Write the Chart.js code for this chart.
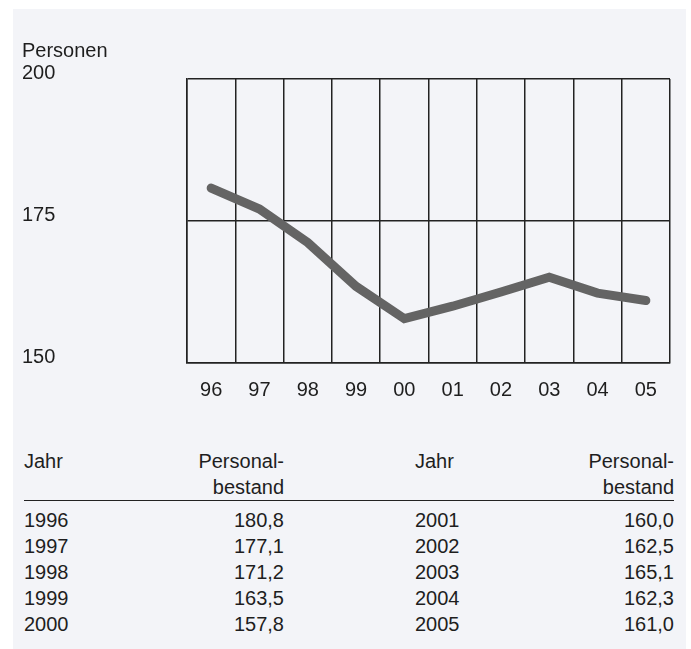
<!DOCTYPE html>
<html>
<head>
<meta charset="utf-8">
<script src="https://cdn.jsdelivr.net/npm/chart.js@4"></script>
<style>
  body { margin: 0; background: #fff; font-family: "Liberation Sans", Arial, sans-serif; color: #1e1e1e; }
  #panel { position: absolute; left: 13px; top: 9px; width: 673px; height: 640px; background: #f3f4f8; }
  #wrap { position: absolute; left: 0; top: 0; width: 673px; height: 420px; }
  #tbl { position: absolute; left: 11px; top: 439px; width: 650px; border-collapse: collapse; table-layout: fixed; font-size: 20px; }
  #tbl td { padding: 0; line-height: 26px; height: 26px; white-space: nowrap; }
  #tbl .r { text-align: right; }
  #tbl tr.last td { border-bottom: 1.5px solid #222; }
  #tbl tr.first td { padding-top: 6px; }
</style>
</head>
<body>
<div id="panel">
  <div id="wrap"><canvas id="chart"></canvas></div>
  <table id="tbl">
    <colgroup><col style="width:130px"><col style="width:130px"><col style="width:131px"><col style="width:130px"><col style="width:129px"></colgroup>
    <tbody id="tbody"></tbody>
  </table>
</div>
<script>
// chart data
const years = ["96", "97", "98", "99", "00", "01", "02", "03", "04", "05"];
const tableYears = ["1996", "1997", "1998", "1999", "2000", "2001", "2002", "2003", "2004", "2005"];
const personal = [180.8, 177.1, 171.2, 163.5, 157.8, 160.0, 162.5, 165.1, 162.3, 161.0];
const yTicks = [150, 175, 200];

const font = { family: "'Liberation Sans', Arial, sans-serif", size: 20 };

const ctx = document.getElementById("chart");
new Chart(ctx, {
  type: "line",
  data: {
    labels: years,
    datasets: [
      {
        data: personal,
        borderColor: "#646464",
        borderWidth: 9,
        borderCapStyle: "round",
        borderJoinStyle: "miter",
        pointRadius: 0,
        tension: 0,
      },
    ],
  },
  options: {
    responsive: true,
    maintainAspectRatio: false,
    animation: false,
    layout: { padding: { left: 9, right: 16, top: 0, bottom: 12 } },
    plugins: {
      legend: { display: false },
      tooltip: { enabled: false },
      title: {
        display: true,
        text: "Personen",
        align: "start",
        color: "#1e1e1e",
        font: { ...font, weight: "normal" },
        padding: { top: 30, bottom: 16 },
      },
    },
    scales: {
      x: {
        offset: true,
        grid: { offset: true, color: "#222", lineWidth: 1.5, drawTicks: false },
        border: { color: "#222", width: 1.5 },
        ticks: { color: "#1e1e1e", font, padding: 15, maxRotation: 0 },
      },
      y: {
        min: yTicks[0],
        max: yTicks[yTicks.length - 1],
        afterBuildTicks: (scale) => {
          scale.ticks = yTicks.map((v) => ({ value: v }));
        },
        afterFit: (scale) => {
          scale.width = 165;
        },
        grid: { color: "#222", lineWidth: 1.5, drawTicks: false },
        border: { color: "#222", width: 1.5 },
        ticks: { color: "#1e1e1e", font, crossAlign: "far", labelOffset: -6, padding: 0 },
      },
    },
  },
});

// table below the chart
const fmt = (v) => v.toFixed(1).replace(".", ",");
const half = tableYears.length / 2;
let html =
  '<tr><td>Jahr</td><td class="r">Personal-</td><td></td><td>Jahr</td><td class="r">Personal-</td></tr>' +
  '<tr class="last"><td></td><td class="r">bestand</td><td></td><td></td><td class="r">bestand</td></tr>';
for (let i = 0; i < half; i++) {
  html +=
    "<tr" + (i === 0 ? ' class="first"' : "") + ">" +
    "<td>" + tableYears[i] + "</td>" +
    '<td class="r">' + fmt(personal[i]) + "</td><td></td>" +
    "<td>" + tableYears[i + half] + "</td>" +
    '<td class="r">' + fmt(personal[i + half]) + "</td></tr>";
}
document.getElementById("tbody").innerHTML = html;
</script>
</body>
</html>
